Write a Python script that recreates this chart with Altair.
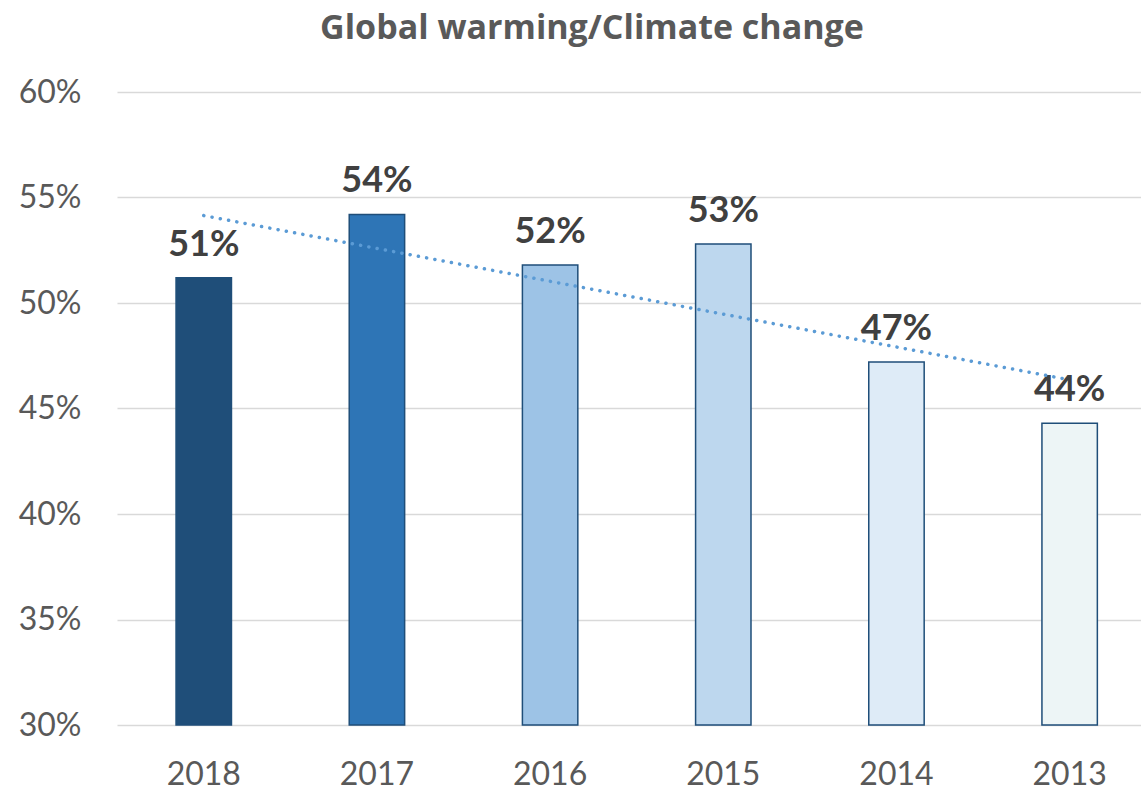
import altair as alt
import pandas as pd

# Survey share naming "Global warming/Climate change", newest year first
years = ["2018", "2017", "2016", "2015", "2014", "2013"]
shares = [0.512, 0.542, 0.518, 0.528, 0.472, 0.443]
bar_colors = ["#1F4E79", "#2E75B6", "#9DC3E6", "#BDD7EE", "#DEEBF7", "#EDF5F6"]
y_floor = 0.30

df = pd.DataFrame({"year": years, "share": shares, "idx": list(range(len(years)))})

FONT = "Lato"
GREY = "#595959"

x_scale = alt.Scale(domain=years, paddingInner=0.68, paddingOuter=0.2965, align=0.575)
y_scale = alt.Scale(domain=[y_floor, 0.60], nice=False, zero=False)

x_enc = alt.X(
    "year:N",
    scale=x_scale,
    sort=years,
    axis=alt.Axis(
        title=None, labelAngle=0, domain=False, ticks=False, tickSize=0,
        labelPadding=34, labelFontSize=32, labelColor=GREY, labelFont=FONT,
        grid=False,
    ),
)

base = alt.Chart(df)

# Bars start at the axis floor (30%) rather than zero
bars = base.mark_bar(stroke="#1F4E79", strokeWidth=1.5).encode(
    x=x_enc,
    y=alt.Y(
        "share:Q",
        scale=y_scale,
        axis=alt.Axis(
            title=None, format=".0%", values=[0.30, 0.35, 0.40, 0.45, 0.50, 0.55, 0.60],
            domain=False, ticks=False, tickSize=0, labelPadding=36,
            labelFontSize=32, labelColor=GREY, labelFont=FONT,
            gridColor="#D9D9D9", gridWidth=1.5,
        ),
    ),
    y2=alt.Y2Datum(y_floor),
    color=alt.Color("year:N", scale=alt.Scale(domain=years, range=bar_colors), legend=None),
)

labels = base.mark_text(
    baseline="alphabetic", dy=-22, fontSize=36, fontWeight="bold", font=FONT, color="#404040"
).encode(
    x=alt.X("year:N", scale=x_scale, sort=years),
    y=alt.Y("share:Q", scale=y_scale),
    text=alt.Text("share:Q", format=".0%"),
)

# Linear trend across the years (index 0..5), mapped back onto the year bands
year_lookup = "[" + ",".join(f"'{y}'" for y in years) + "]"
trend = (
    base.transform_regression("idx", "share")
    .transform_calculate(year=f"{year_lookup}[round(datum.idx)]")
    .mark_line(color="#5B9BD5", strokeWidth=3.5, strokeDash=[0.1, 8.3], strokeCap="round")
    .encode(
        x=alt.X("year:N", scale=x_scale, sort=years),
        y=alt.Y("share:Q", scale=y_scale),
    )
)

chart = (
    alt.layer(bars, labels, trend)
    .properties(
        width=1024,
        height=633,
        background="white",
        title=alt.TitleParams(
            "Global warming/Climate change",
            font="Open Sans", fontSize=34, fontWeight="bold", color=GREY,
            anchor="middle", dx=-37, offset=30,
        ),
        autosize=alt.AutoSizeParams(type="none"),
        padding={"left": 117, "top": 92, "right": 0, "bottom": 66},
    )
    .configure_view(stroke="transparent", strokeWidth=0)
    .configure_axis(domain=False)
)

chart.save("out.html", embed_options={"renderer": "svg", "actions": False})
